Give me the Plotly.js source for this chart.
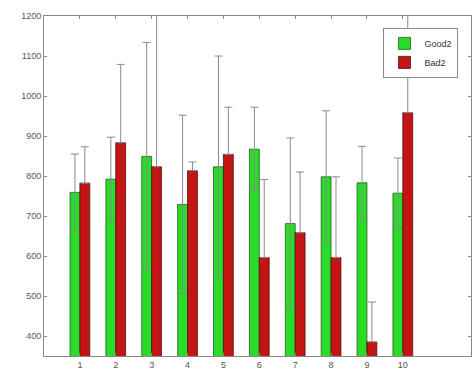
<!DOCTYPE html>
<html>
<head>
<meta charset="utf-8">
<script src="https://cdn.plot.ly/plotly-3.0.1.min.js"></script>
<style>html,body{margin:0;padding:0;background:#fff;}#chart{width:473px;height:375px;}</style>
</head>
<body>
<div id="chart"></div>
<script>
const categories = [1, 2, 3, 4, 5, 6, 7, 8, 9, 10];
const goodValues = [759, 792, 849, 729, 823, 867, 681, 798, 783, 757];
const goodErrors = [96, 105, 285, 223, 277, 105, 214, 165, 91, 88];
const badValues = [782, 883, 823, 813, 854, 596, 658, 596, 385, 958];
const badErrors = [91, 196, 400, 22, 118, 195, 152, 202, 100, 260];
const yTicks = [400, 500, 600, 700, 800, 900, 1000, 1100, 1200];

const traces = [
  {
    type: 'bar', name: 'Good2', x: categories, y: goodValues,
    marker: {color: '#28dc28', line: {color: '#2a5a2a', width: 0.8}},
    error_y: {type: 'data', array: goodErrors, visible: true, color: '#8a8a8a', thickness: 1, width: 4}
  },
  {
    type: 'bar', name: 'Bad2', x: categories, y: badValues,
    marker: {color: '#c41414', line: {color: '#4a1010', width: 0.8}},
    error_y: {type: 'data', symmetric: false, array: badErrors, arrayminus: badErrors.map(() => 0),
              visible: true, color: '#8a8a8a', thickness: 1, width: 4}
  }
];

const layout = {
  width: 473, height: 375,
  margin: {l: 44, r: 2, t: 16, b: 19},
  paper_bgcolor: '#ffffff', plot_bgcolor: '#ffffff',
  font: {family: 'Liberation Sans, Arial, sans-serif', size: 9, color: '#555555'},
  barmode: 'group', bargap: 0.45, bargroupgap: 0,
  showlegend: true,
  legend: {
    x: 0.795, y: 0.965, xanchor: 'left', yanchor: 'top',
    bgcolor: '#ffffff', bordercolor: '#8a8a8a', borderwidth: 1,
    font: {size: 9, color: '#333333'}, itemwidth: 30, tracegroupgap: 0
  },
  xaxis: {
    range: [0, 11.9], tickvals: categories, ticktext: categories.map(String),
    ticks: 'inside', ticklen: 3, tickcolor: '#888888',
    showline: true, linecolor: '#888888', linewidth: 1, mirror: 'ticks',
    showgrid: false, zeroline: false
  },
  yaxis: {
    range: [350, 1200], tickvals: yTicks, ticktext: yTicks.map(String),
    ticks: 'inside', ticklen: 3, tickcolor: '#888888',
    showline: true, linecolor: '#888888', linewidth: 1, mirror: 'ticks',
    showgrid: false, zeroline: false
  }
};

Plotly.newPlot('chart', traces, layout, {displayModeBar: false, staticPlot: true});
</script>
</body>
</html>
